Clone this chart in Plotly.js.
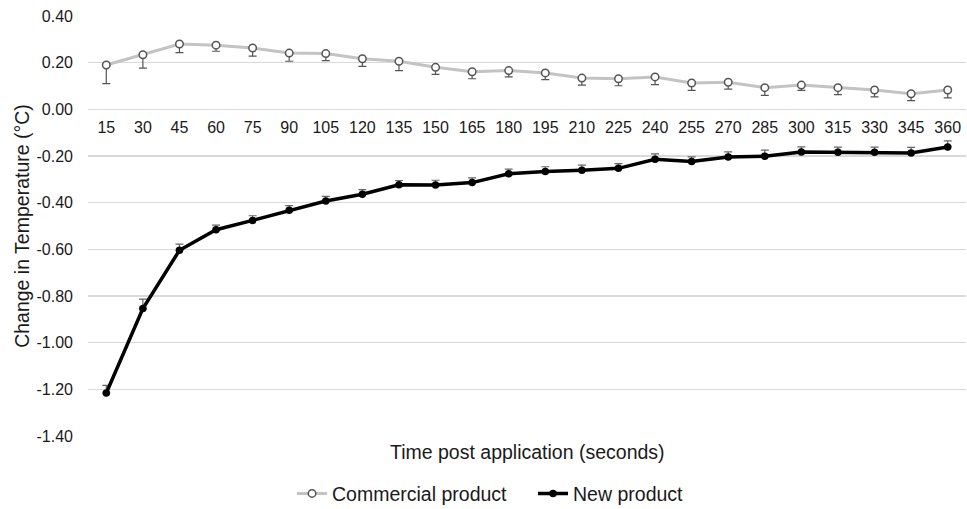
<!DOCTYPE html>
<html>
<head>
<meta charset="utf-8">
<script src="https://cdn.plot.ly/plotly-3.0.1.min.js"></script>
<style>html,body{margin:0;padding:0;background:#fff;}#chart{width:967px;height:509px;}</style>
</head>
<body>
<div id="chart"></div>
<script>
const categories = ["15","30","45","60","75","90","105","120","135","150","165","180","195","210","225","240","255","270","285","300","315","330","345","360"];
const commercialValues = [0.19,0.234,0.28,0.275,0.263,0.241,0.239,0.217,0.206,0.18,0.161,0.166,0.156,0.134,0.131,0.139,0.113,0.116,0.093,0.104,0.093,0.083,0.067,0.083];
const commercialErrMinus = [0.08,0.057,0.037,0.026,0.035,0.035,0.03,0.033,0.04,0.03,0.03,0.027,0.029,0.03,0.03,0.033,0.032,0.029,0.033,0.023,0.03,0.03,0.03,0.034];
const newValues = [-1.216,-0.854,-0.604,-0.516,-0.476,-0.433,-0.393,-0.364,-0.323,-0.324,-0.314,-0.276,-0.266,-0.261,-0.253,-0.214,-0.224,-0.204,-0.201,-0.183,-0.184,-0.184,-0.187,-0.161];
const newErrPlus = [0.033,0.041,0.026,0.02,0.02,0.02,0.02,0.02,0.018,0.02,0.02,0.02,0.02,0.022,0.02,0.023,0.02,0.022,0.026,0.022,0.022,0.022,0.024,0.026];
const yTickVals = [0.4,0.2,0,-0.2,-0.4,-0.6,-0.8,-1.0,-1.2,-1.4];
const yTickText = ["0.40","0.20","0.00","-0.20","-0.40","-0.60","-0.80","-1.00","-1.20","-1.40"];
const seriesNames = ["Commercial product","New product"];
const xTitle = "Time post application (seconds)";
const yTitle = "Change in Temperature (°C)";

const FONT = "Liberation Sans, Arial, sans-serif";
const TXT = "#1a1a1a";
const yMin = -1.4, yMax = 0.4;

const traces = [
  {
    x: categories, y: commercialValues, name: seriesNames[0], type: "scatter", mode: "lines+markers",
    line: {color: "#c3c3c3", width: 3},
    marker: {symbol: "circle", size: 7.5, color: "#ffffff", line: {color: "#555555", width: 1.5}},
    error_y: {type: "data", symmetric: false, array: commercialErrMinus.map(() => 0), arrayminus: commercialErrMinus,
              color: "#555555", thickness: 1.2, width: 4}
  },
  {
    x: categories, y: newValues, name: seriesNames[1], type: "scatter", mode: "lines+markers",
    line: {color: "#000000", width: 3.5},
    marker: {symbol: "circle", size: 7.5, color: "#000000"},
    error_y: {type: "data", symmetric: false, array: newErrPlus, arrayminus: newErrPlus.map(() => 0),
              color: "#666666", thickness: 1.2, width: 4}
  }
];

const layout = {
  width: 967, height: 509,
  margin: {l: 88, r: 1, t: 16, b: 73},
  paper_bgcolor: "#ffffff", plot_bgcolor: "#ffffff",
  font: {family: FONT, size: 16, color: TXT},
  showlegend: true,
  legend: {orientation: "h", x: 0.302, xref: "container", xanchor: "left", y: 0.03, yref: "container", yanchor: "middle",
           font: {family: FONT, size: 19.5, color: TXT}, traceorder: "normal", itemwidth: 30, entrywidth: 196},
  xaxis: {
    type: "category", anchor: "free", position: (0 - yMin) / (yMax - yMin),
    showgrid: false, zeroline: false, showline: false, ticks: "", ticklabelstandoff: 7,
    tickfont: {family: FONT, size: 16, color: TXT}, range: [-0.5, categories.length - 0.5]
  },
  yaxis: {
    range: [yMin, yMax], tickvals: yTickVals, ticktext: yTickText,
    showgrid: true, gridcolor: "#d9d9d9", gridwidth: 1.3, zeroline: false, showline: false, ticks: "",
    ticklabelstandoff: 14, tickfont: {family: FONT, size: 16, color: TXT},
    title: {text: yTitle, font: {family: FONT, size: 19.5, color: TXT}, standoff: 1}
  },
  annotations: [
    {text: xTitle, xref: "paper", yref: "paper", x: 0.5, y: 0, yshift: -16, xanchor: "center", yanchor: "middle",
     showarrow: false, font: {family: FONT, size: 19.5, color: TXT}}
  ]
};

Plotly.newPlot("chart", traces, layout, {displayModeBar: false, staticPlot: true});
</script>
</body>
</html>
